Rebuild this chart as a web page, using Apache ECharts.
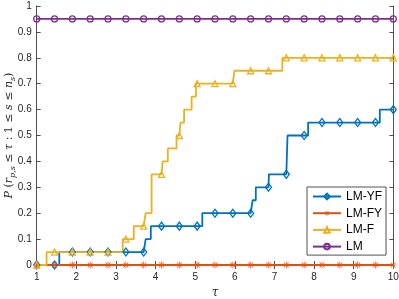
<!DOCTYPE html>
<html>
<head>
<meta charset="utf-8">
<script src="https://cdn.jsdelivr.net/npm/echarts@6/dist/echarts.min.js"></script>
<style>
html,body{margin:0;padding:0;background:#fff;}
#c{width:399px;height:299px;}
</style>
</head>
<body>
<div id="c"></div>
<script>
// Marker positions (shared by all series)
const markerX = [1, 1.45, 1.9, 2.35, 2.8, 3.25, 3.7, 4.15, 4.6, 5.05, 5.5, 5.95, 6.4, 6.85, 7.3, 7.75, 8.2, 8.65, 9.1, 9.55, 10];

// Step breakpoints: value y holds from x onward
const lmyfX = [1, 1.57, 3.75, 3.88, 5.18, 6.45, 6.53, 6.86, 7.33, 7.85, 9.66, 10];
const lmyfY = [0, 0.05, 0.10, 0.15, 0.20, 0.25, 0.30, 0.35, 0.50, 0.55, 0.60, 0.60];

const lmfyX = [1, 10];
const lmfyY = [0, 0];

const lmfX = [1, 1.25, 3.17, 3.45, 3.75, 3.9, 4.18, 4.31, 4.53, 4.63, 4.72, 4.91, 5.02, 5.99, 7.2, 10];
const lmfY = [0, 0.05, 0.10, 0.15, 0.20, 0.35, 0.40, 0.45, 0.50, 0.55, 0.60, 0.65, 0.70, 0.75, 0.80, 0.80];

const lmX = [1, 10];
const lmY = [0.95, 0.95];

const seriesNames = ['LM-YF', 'LM-FY', 'LM-F', 'LM'];
const xTicks = [1, 2, 3, 4, 5, 6, 7, 8, 9, 10];
const yTicks = [0, 0.1, 0.2, 0.3, 0.4, 0.5, 0.6, 0.7, 0.8, 0.9, 1];
const yTitle = '{it|P} ({it|r}{sub|p,s} ≤ {it|τ} : 1 ≤ {it|s} ≤ {it|n}{sub|s})';

const colors = ['#0072BD', '#D95319', '#EDB120', '#7E2F8E'];
const starPath = 'path://M9 0L11 0L11 20L9 20Z M0 9L20 9L20 11L0 11Z M3.71 2.29L17.71 16.29L16.29 17.71L2.29 3.71Z M17.71 3.71L3.71 17.71L2.29 16.29L16.29 2.29Z';

function build(xs, ys) {
  const map = new Map();
  xs.forEach((x, i) => map.set(x, { value: [x, ys[i]], symbol: 'none' }));
  markerX.forEach(mx => {
    let y = ys[0];
    for (let i = 0; i < xs.length; i++) if (xs[i] <= mx + 1e-9) y = ys[i];
    map.set(mx, { value: [mx, y] });
  });
  return [...map.values()].sort((a, b) => a.value[0] - b.value[0]);
}

const FONT = 'Liberation Sans, Arial, Helvetica, sans-serif';
const SERIF = 'DejaVu Serif, serif';
const AX = '#262626';

function mkSeries(name, xs, ys, color, symbol, size, filled) {
  return {
    name: name,
    type: 'line',
    step: 'end',
    data: build(xs, ys),
    symbol: symbol,
    symbolSize: size,
    showSymbol: true,
    showAllSymbol: true,
    clip: false,
    color: color,
    lineStyle: { color: color, width: 1.8 },
    itemStyle: filled
      ? { color: color, borderWidth: 0 }
      : { color: 'rgba(255,255,255,0)', borderColor: color, borderWidth: 1.3 },
    emphasis: { disabled: true }
  };
}

const chart = echarts.init(document.getElementById('c'), null, { renderer: 'canvas' });
const axisCommon = {
  axisLine: { show: true, lineStyle: { color: AX, width: 0.8 } },
  axisTick: { show: true, inside: true, length: 4, lineStyle: { color: AX, width: 0.8 } },
  splitLine: { show: false }
};
chart.setOption({
  animation: false,
  backgroundColor: '#fff',
  grid: { left: 36.7, right: 5.7, top: 6, bottom: 34, containLabel: false, outerBoundsMode: 'none' },
  graphic: [{
    type: 'text',
    x: 9, y: 135.5,
    rotation: Math.PI / 2,
    style: {
      text: yTitle,
      align: 'center', verticalAlign: 'middle',
      fill: AX, fontSize: 11, fontFamily: SERIF, lineHeight: 16,
      rich: {
        it: { fontStyle: 'italic', fontSize: 11, fontFamily: SERIF, fill: AX, lineHeight: 16 },
        sub: { fontStyle: 'italic', fontSize: 8, fontFamily: SERIF, fill: AX, lineHeight: 8, verticalAlign: 'bottom' }
      }
    }
  }],
  xAxis: [
    Object.assign({
      type: 'value', min: xTicks[0], max: xTicks[xTicks.length - 1], interval: 1, position: 'bottom',
      axisLabel: { color: AX, fontSize: 10, fontFamily: FONT, margin: 7 },
      name: 'τ', nameLocation: 'middle', nameGap: 19,
      nameTextStyle: { color: AX, fontSize: 12, fontStyle: 'italic', fontFamily: SERIF }
    }, axisCommon),
    Object.assign({
      type: 'value', min: xTicks[0], max: xTicks[xTicks.length - 1], interval: 1, position: 'top',
      axisLabel: { show: false }
    }, axisCommon)
  ],
  yAxis: [
    Object.assign({
      type: 'value', min: yTicks[0], max: yTicks[yTicks.length - 1], interval: 0.1, position: 'left',
      axisLabel: { color: AX, fontSize: 10, fontFamily: FONT, margin: 5 }
    }, axisCommon),
    Object.assign({
      type: 'value', min: yTicks[0], max: yTicks[yTicks.length - 1], interval: 0.1, position: 'right',
      axisLabel: { show: false }
    }, axisCommon)
  ],
  legend: {
    data: seriesNames,
    orient: 'vertical',
    left: 307, top: 187,
    padding: [3.5, 4, 2.5, 5],
    itemWidth: 28, itemHeight: 7, itemGap: 4.7,
    backgroundColor: '#fff',
    borderColor: AX, borderWidth: 0.8, borderRadius: 0,
    textStyle: { color: '#000', fontSize: 12, fontFamily: FONT, lineHeight: 12 }
  },
  series: [
    mkSeries(seriesNames[0], lmyfX, lmyfY, colors[0], 'diamond', [6, 8], false),
    mkSeries(seriesNames[1], lmfyX, lmfyY, colors[1], starPath, 7, true),
    mkSeries(seriesNames[2], lmfX, lmfY, colors[2], 'triangle', [6, 6], false),
    mkSeries(seriesNames[3], lmX, lmY, colors[3], 'circle', 6, false)
  ]
});
</script>
</body>
</html>
